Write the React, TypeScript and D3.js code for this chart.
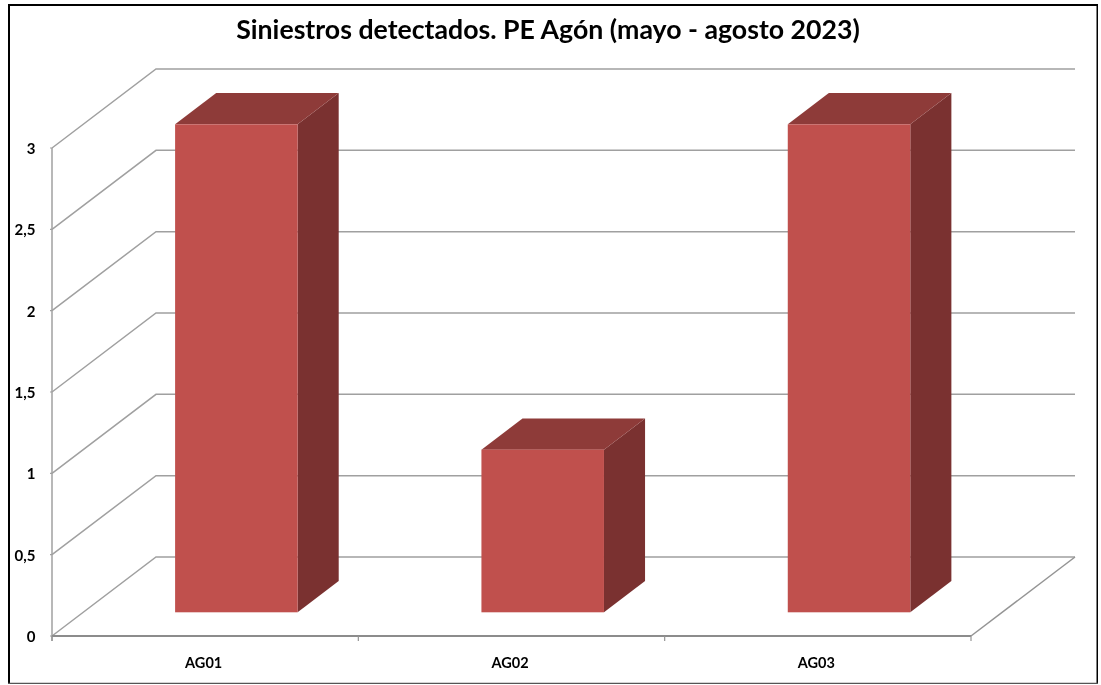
import React from 'react';
import * as d3 from 'd3';

const categories = ['AG01', 'AG02', 'AG03'];
const values = [3, 1, 3];
const yTicks = [0, 0.5, 1, 1.5, 2, 2.5, 3];
const title = 'Siniestros detectados. PE Agón (mayo - agosto 2023)';

const width = 1101;
const height = 685;
const font = 'Lato, "Open Sans", sans-serif';

// oblique offset between the front and back of the 3D floor
const depthX = 104;
const depthY = -79;
const barGapDepth = 0.3;
const barDepth = 0.395;

const y = d3.scaleLinear().domain([0, 3]).range([636, 148]);
const x = d3.scaleBand().domain(categories).range([52, 971]);
const barWidth = x.bandwidth() * 0.4;

const poly = (pts: [number, number][]) => d3.line()(pts) + 'Z';
const fmt = (v: number) => String(v).replace('.', ',');

function Bar({ cat, value }: { cat: string; value: number }) {
  const x0 = x(cat)! + (x.bandwidth() - barWidth) / 2 + depthX * barGapDepth;
  const x1 = x0 + barWidth;
  const yBase = y(0) + depthY * barGapDepth;
  const yTop = y(value) + depthY * barGapDepth;
  const dx = depthX * barDepth;
  const dy = depthY * barDepth;
  return (
    <g>
      <path d={poly([[x1, yTop], [x1 + dx, yTop + dy], [x1 + dx, yBase + dy], [x1, yBase]])} fill="#7a3130" />
      <path d={poly([[x0, yTop], [x0 + dx, yTop + dy], [x1 + dx, yTop + dy], [x1, yTop]])} fill="#8e3b39" />
      <rect x={x0} y={yTop} width={barWidth} height={yBase - yTop} fill="#c0504d" />
    </g>
  );
}

export default function App() {
  const [left, right] = x.range();
  return (
    <svg width={width} height={height} style={{ position: 'absolute', left: 0, top: 0, background: '#fff' }}>
      <defs>
        {/* the reference is a slightly soft scan */}
        <filter id="soft" x="0" y="0" width="100%" height="100%" colorInterpolationFilters="sRGB">
          <feGaussianBlur stdDeviation="0.5" />
        </filter>
      </defs>

      <g filter="url(#soft)">
        {/* frame */}
        <path d={`M8.5 684V4.5H1098V684`} fill="none" stroke="#000" strokeWidth={3} />
        <line x1={8} x2={1098} y1={683.5} y2={683.5} stroke="#555" strokeWidth={1.5} />

        <text x={548} y={39} textAnchor="middle" fontFamily={font} fontWeight={700} fontSize={26.7} fill="#000">
          {title}
        </text>

        {/* gridlines: side wall + back wall */}
        {yTicks.map((t) => (
          <path
            key={t}
            d={d3.line()([[left, y(t)], [left + depthX, y(t) + depthY], [right + depthX, y(t) + depthY]])!}
            fill="none"
            stroke="#a0a0a0"
            strokeWidth={1.5}
          />
        ))}
        <line x1={right} y1={y(0)} x2={right + depthX} y2={y(0) + depthY} stroke="#949494" strokeWidth={1.5} />

        {/* axes */}
        <line x1={left} x2={left} y1={y(3)} y2={y(0) + 5} stroke="#a0a0a0" strokeWidth={1.5} />
        <line x1={left} x2={right} y1={y(0)} y2={y(0)} stroke="#8c8c8c" strokeWidth={1.8} />
        {yTicks.map((t) => (
          <g key={t}>
            <line x1={left - 2} x2={left} y1={y(t)} y2={y(t)} stroke="#a0a0a0" strokeWidth={1.2} />
            <text x={35.5} y={y(t) + 6} textAnchor="end" fontFamily={font} fontWeight={700} fontSize={15} fill="#000">
              {fmt(t)}
            </text>
          </g>
        ))}
        {[...categories.map((c) => x(c)!), right].map((tx) => (
          <line key={tx} x1={tx} x2={tx} y1={y(0)} y2={y(0) + 5} stroke="#949494" strokeWidth={1.2} />
        ))}
        {categories.map((c) => (
          <text
            key={c}
            x={x(c)! + x.bandwidth() / 2 - 1.5}
            y={668}
            textAnchor="middle"
            fontFamily={font}
            fontWeight={700}
            fontSize={14.5}
            fill="#000"
          >
            {c}
          </text>
        ))}

        {categories.map((c, i) => (
          <Bar key={c} cat={c} value={values[i]} />
        ))}
      </g>
    </svg>
  );
}
